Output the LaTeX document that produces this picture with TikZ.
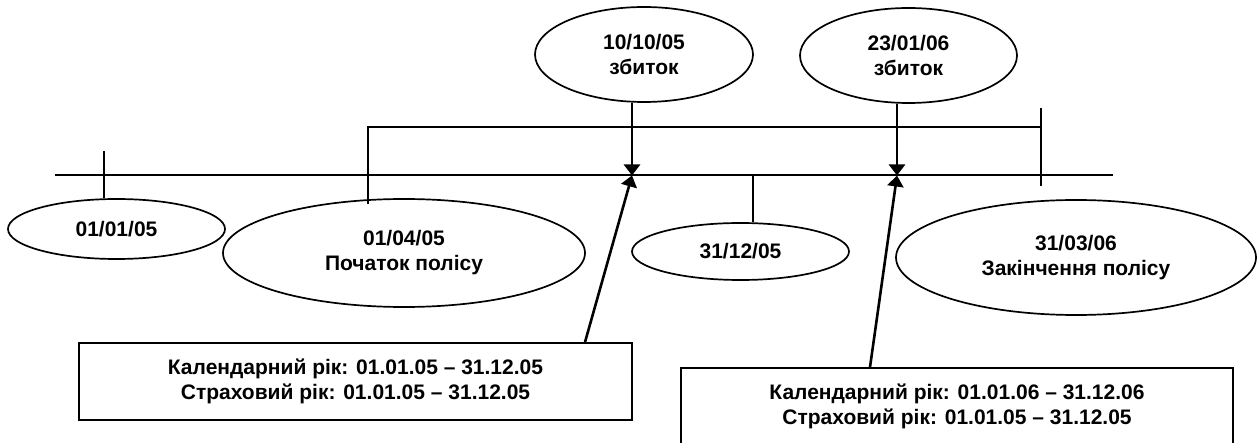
\documentclass[tikz,border=0pt]{standalone}
\usepackage{fontspec}
\setmainfont{Liberation Sans}
\usetikzlibrary{arrows.meta,shapes.geometric}
\begin{document}
\begin{tikzpicture}[x=1pt,y=-1pt,
  every node/.style={font=\bfseries\fontsize{21}{25}\selectfont},
  oval/.style={draw,ellipse,line width=1.7pt,inner sep=0pt,align=center},
  infobox/.style={draw,rectangle,line width=1.7pt,inner sep=0pt,align=center},
  ln/.style={line width=2pt},
  arr/.style={line width=2.6pt,-{Triangle[length=11pt,width=16pt]}}]
\clip (0,0) rectangle (1257,443);
% ellipses
\node[oval,minimum width=217pt,minimum height=60pt] (e1) at (116.5,229) {01/01/05};
\node[oval,minimum width=362pt,minimum height=108pt] (e2) at (404,253) {01/04/05\\Початок полісу};
\node[oval,minimum width=218pt,minimum height=95pt] (e3) at (644,54.5) {10/10/05\\збиток};
\node[oval,minimum width=217pt,minimum height=95pt] (e4) at (908.5,55.5) {23/01/06\\збиток};
\node[oval,minimum width=217pt,minimum height=57pt] (e5) at (740.5,251.5) {31/12/05};
\node[oval,minimum width=360pt,minimum height=115pt] (e6) at (1076,257.5) {31/03/06\\Закінчення полісу};
% boxes
\node[infobox,minimum width=553pt,minimum height=77pt] (b1) at (355.5,381.5) {Календарний рік: 01.01.05 – 31.12.05\\Страховий рік: 01.01.05 – 31.12.05};
\node[infobox,minimum width=552pt,minimum height=76pt] (b2) at (957,406) {Календарний рік: 01.01.06 – 31.12.06\\Страховий рік: 01.01.05 – 31.12.05};
% timeline
\coordinate (tlA) at (55,175.5);
\coordinate (tlB) at (1113,175.5);
\draw[ln] (tlA) -- (tlB);
% ticks
\coordinate (k1) at (104,151);
\draw[ln] (k1) -- (k1 |- e1.north);
\coordinate (k2) at (753,175.5);
\draw[ln] (k2) -- (k2 |- e5.north);
% policy bracket
\coordinate (brL) at (368,204);
\coordinate (brTL) at (368,127);
\coordinate (brTR) at (1041,127);
\coordinate (brRT) at (1041,108);
\coordinate (brRB) at (1041,186);
\draw[ln] (brL) -- (brTL) -- (brTR);
\draw[ln] (brRT) -- (brRB);
% loss arrows
\coordinate (c1) at (632,175.5);
\coordinate (c2) at (897,175.5);
\draw[arr] (c1 |- e3.south) -- (c1);
\draw[arr] (c2 |- e4.south) -- (c2);
\draw[arr] ([xshift=229.5pt]b1.north) -- (c1);
\draw[arr] ([xshift=-87pt]b2.north) -- (c2);
\end{tikzpicture}
\end{document}
